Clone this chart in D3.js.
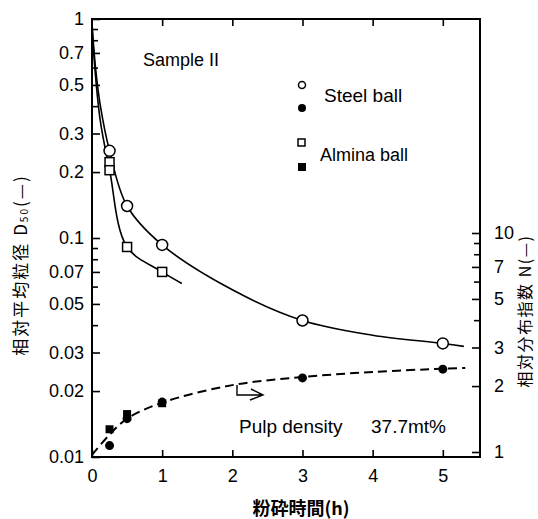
<!DOCTYPE html>
<html>
<head>
<meta charset="utf-8">
<script src="https://cdn.jsdelivr.net/npm/d3@7"></script>
<style>
html, body { margin: 0; padding: 0; background: #fff; overflow: hidden; }
svg { display: block; }
text { font-family: "Liberation Sans", Arial, sans-serif; fill: #000; }
.cjk { font-family: "Noto Sans CJK JP", sans-serif; }
</style>
</head>
<body>
<svg width="538" height="519"></svg>
<script>
// measured points
const steelTime = [0.25, 0.5, 1, 3, 5];
const steelD50 = [0.25, 0.14, 0.093, 0.042, 0.033];
const aluminaTime = [0.25, 0.25, 0.5, 1];
const aluminaD50 = [0.222, 0.204, 0.091, 0.070];
const steelNTime = [0.25, 0.5, 1, 3, 5];
const steelN = [1.07, 1.42, 1.69, 2.18, 2.39];
const aluminaNTime = [0.25, 0.5, 1];
const aluminaN = [1.27, 1.49, 1.67];

// fitted curves
const steelCurveT = [0, 0.05, 0.12, 0.25, 0.5, 1, 2, 3, 4, 5, 5.3];
const steelCurveV = [0.95, 0.6, 0.4, 0.25, 0.14, 0.093, 0.058, 0.042, 0.036, 0.033, 0.032];
const aluminaCurveT = [0, 0.05, 0.12, 0.25, 0.5, 1, 1.28];
const aluminaCurveV = [0.92, 0.55, 0.34, 0.205, 0.091, 0.07, 0.062];
const nCurveT = [0, 0.25, 0.5, 1, 2, 3, 4, 5, 5.32];
const nCurveV = [0.97, 1.2, 1.42, 1.68, 2.02, 2.2, 2.32, 2.4, 2.42];

// axis ticks
const xTicks = [0, 1, 2, 3, 4, 5];
const leftLabels = [1, 0.7, 0.5, 0.3, 0.2, 0.1, 0.07, 0.05, 0.03, 0.02, 0.01];
const leftMinor = [0.9, 0.8, 0.6, 0.4, 0.09, 0.08, 0.06, 0.04];
const rightLabels = [1, 2, 3, 5, 7, 10];
const rightMinor = [4, 6, 8, 9];

var svg = d3.select('svg');
const margin = {top: 19, right: 58, bottom: 62, left: 92};
const width = +svg.attr('width');
const height = +svg.attr('height');
const innerWidth = width - margin.left - margin.right;
const innerHeight = height - margin.top - margin.bottom;

const xScale = d3.scaleLinear().domain([0, 5.53]).range([0, innerWidth]);
const yLeft = d3.scaleLog().domain([0.01, 1]).range([innerHeight, 0]);
const yRight = d3.scaleLog().domain([1, 10]).range([innerHeight - 5, innerHeight - 224]);

const g = svg.append('g')
	.attr('transform', `translate(${margin.left},${margin.top})`);

function styleAxis(sel) {
	sel.attr('font-size', 18).attr('font-family', '"Liberation Sans", Arial, sans-serif');
	sel.select('.domain').remove();
	sel.selectAll('line').attr('stroke', '#000').attr('stroke-width', 1.6);
	sel.selectAll('text').filter(function() { return this.textContent === ''; }).remove();
}

// axes (ticks pointing inward)
g.append('g').call(d3.axisLeft(yLeft).tickValues(leftLabels).tickSize(-8).tickPadding(8)
	.tickFormat(d => String(d))).call(styleAxis);
g.append('g').call(d3.axisLeft(yLeft).tickValues(leftMinor).tickSize(-6).tickFormat('')).call(styleAxis);
g.append('g').attr('transform', `translate(${innerWidth},0)`)
	.call(d3.axisRight(yRight).tickValues(rightLabels).tickSize(-8).tickPadding(14)
	.tickFormat(d => String(d))).call(styleAxis);
g.append('g').attr('transform', `translate(${innerWidth},0)`)
	.call(d3.axisRight(yRight).tickValues(rightMinor).tickSize(-6).tickFormat('')).call(styleAxis);
g.append('g').attr('transform', `translate(0,${innerHeight})`)
	.call(d3.axisBottom(xScale).tickValues(xTicks).tickSize(-7).tickPadding(12)
	.tickFormat(d3.format('d'))).call(styleAxis);
g.append('g').call(d3.axisTop(xScale).tickValues(xTicks.slice(1)).tickSize(-7).tickFormat(''))
	.call(styleAxis);

// frame
g.append('rect')
	.attr('width', innerWidth).attr('height', innerHeight)
	.attr('fill', 'none').attr('stroke', '#000').attr('stroke-width', 2);

// curves
const leftLine = d3.line()
	.x(d => xScale(d[0])).y(d => yLeft(d[1]))
	.curve(d3.curveCatmullRom.alpha(0.5));
const rightLine = d3.line()
	.x(d => xScale(d[0])).y(d => yRight(d[1]))
	.curve(d3.curveCatmullRom.alpha(0.5));

g.append('path').datum(d3.zip(steelCurveT, steelCurveV))
	.attr('d', leftLine).attr('fill', 'none').attr('stroke', '#000').attr('stroke-width', 1.6);
g.append('path').datum(d3.zip(aluminaCurveT, aluminaCurveV))
	.attr('d', leftLine).attr('fill', 'none').attr('stroke', '#000').attr('stroke-width', 1.6);
g.append('path').datum(d3.zip(nCurveT, nCurveV))
	.attr('d', rightLine).attr('fill', 'none').attr('stroke', '#000').attr('stroke-width', 2)
	.attr('stroke-dasharray', '9,5');

// markers
g.selectAll('.alsq').data(d3.zip(aluminaTime, aluminaD50)).enter().append('rect')
	.attr('x', d => xScale(d[0]) - 4.5).attr('y', d => yLeft(d[1]) - 4.5)
	.attr('width', 9).attr('height', 9)
	.attr('fill', '#fff').attr('stroke', '#000').attr('stroke-width', 1.5);
g.selectAll('.stci').data(d3.zip(steelTime, steelD50)).enter().append('circle')
	.attr('cx', d => xScale(d[0])).attr('cy', d => yLeft(d[1])).attr('r', 5.5)
	.attr('fill', '#fff').attr('stroke', '#000').attr('stroke-width', 1.5);
g.selectAll('.alnsq').data(d3.zip(aluminaNTime, aluminaN)).enter().append('rect')
	.attr('x', d => xScale(d[0]) - 4).attr('y', d => yRight(d[1]) - 4)
	.attr('width', 8).attr('height', 8).attr('fill', '#000');
g.selectAll('.stnci').data(d3.zip(steelNTime, steelN)).enter().append('circle')
	.attr('cx', d => xScale(d[0])).attr('cy', d => yRight(d[1])).attr('r', 4.5)
	.attr('fill', '#000');

// legend
const legend = svg.append('g');
legend.append('circle').attr('cx', 302).attr('cy', 85).attr('r', 3.5)
	.attr('fill', '#fff').attr('stroke', '#000').attr('stroke-width', 1.5);
legend.append('circle').attr('cx', 302).attr('cy', 108).attr('r', 4).attr('fill', '#000');
legend.append('rect').attr('x', 298).attr('y', 139).attr('width', 7).attr('height', 7)
	.attr('fill', '#fff').attr('stroke', '#000').attr('stroke-width', 1.5);
legend.append('rect').attr('x', 298).attr('y', 163).attr('width', 8).attr('height', 8).attr('fill', '#000');
legend.append('text').attr('x', 324).attr('y', 102).style('font-size', '19px').text('Steel ball');
legend.append('text').attr('x', 320).attr('y', 161).style('font-size', '18px').text('Almina ball');

svg.append('text').attr('x', 143).attr('y', 66).style('font-size', '18px').text('Sample II');
svg.append('text').attr('x', 239).attr('y', 433).style('font-size', '19px').text('Pulp density');
svg.append('text').attr('x', 371).attr('y', 433).style('font-size', '19px').text('37.7mt%');

// arrow pointing to the right axis
svg.append('path')
	.attr('d', 'M237,385 V395 H262 M251,389 L263,395 L250,400')
	.attr('fill', 'none').attr('stroke', '#000').attr('stroke-width', 1.4);

// axis titles
svg.append('text').attr('class', 'cjk')
	.attr('x', 301).attr('y', 510).attr('text-anchor', 'middle').attr('dominant-baseline', 'middle')
	.style('font-size', '18px').style('font-weight', 'bold').text('粉砕時間(h)');

svg.append('text').attr('class', 'cjk')
	.attr('transform', 'translate(22,265) rotate(-90)')
	.attr('text-anchor', 'middle').attr('dominant-baseline', 'middle')
	.style('font-size', '17px').style('letter-spacing', '2px')
	.html('相対平均粒径 D<tspan font-size="10px" dy="3">50</tspan><tspan dy="-3">(—)</tspan>');

svg.append('text').attr('class', 'cjk')
	.attr('transform', 'translate(527,311) rotate(-90)')
	.attr('text-anchor', 'middle').attr('dominant-baseline', 'middle')
	.style('font-size', '16px').style('letter-spacing', '1.5px').text('相対分布指数 N(—)');
</script>
</body>
</html>
